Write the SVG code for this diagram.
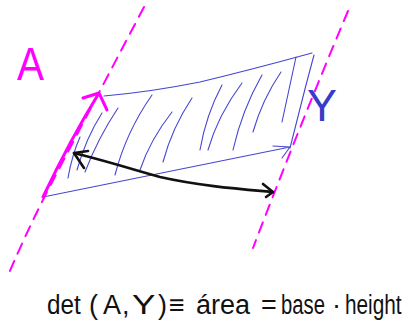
<svg xmlns="http://www.w3.org/2000/svg" width="409" height="329" viewBox="0 0 409 329">
<style>
.mag{stroke:#ff00ff;fill:none;stroke-linecap:round;stroke-linejoin:round}
.dash{stroke-width:2;stroke-dasharray:11 8}
.blue{stroke:#4646d0;fill:none;stroke-width:1.1;stroke-linecap:round;stroke-linejoin:round}
.blk{stroke:#111;fill:none;stroke-width:2.6;stroke-linecap:round;stroke-linejoin:round}
.hand{font-family:"Liberation Sans","DejaVu Sans",sans-serif}
.eq{font-family:"Liberation Sans","DejaVu Sans",sans-serif;font-size:27px;fill:#111}
</style>
<rect width="409" height="329" fill="#fff"/>
<g id="hatching">
<path class="blue" d="M80,137 Q72,155 68,178"/>
<path class="blue" d="M102,113 Q86,138 77,170"/>
<path class="blue" d="M118,108 Q98,138 85,172"/>
<path class="blue" d="M152,95 Q126,132 115,175"/>
<path class="blue" d="M172,112 Q150,140 140,170"/>
<path class="blue" d="M192,98 Q172,128 163,162"/>
<path class="blue" d="M222,85 Q206,115 200,150"/>
<path class="blue" d="M242,83 Q218,115 208,150"/>
<path class="blue" d="M262,75 Q242,110 233,150"/>
<path class="blue" d="M281,72 Q262,100 253,132"/>
<path class="blue" d="M296,57 Q289,90 282,122"/>
</g>
<g id="parallelogram">
<path class="blue" d="M104,96 Q150,92 200,82 Q250,70 312,53"/>
<path class="blue" d="M314,55 L306,85 L290,148"/>
<path class="blue" d="M43,197 L290,147 M273,146 L290,147 L282,158"/>
</g>
<g id="line-left">
<path class="mag dash" d="M144,7 Q95,100 48,190 Q25,235 7,278"/>
</g>
<g id="line-right">
<path class="mag dash" d="M348,11 Q300,125 253,248"/>
</g>
<g id="vector-A">
<path class="mag" stroke-width="3" d="M43,197 Q70,140 99,93 M83,98 L99,93 L107,110"/>
</g>
<g id="connectors">
<path class="blk" d="M74,153 C110,162 135,170 160,177 C200,186 240,189 273,192"/>
<path class="blk" d="M88,151 L74,153 L84,168"/>
<path class="blk" d="M263,184 L273,192 L266,197"/>
</g>
<g id="labels">
<text class="hand" x="17" y="80" font-size="46" fill="#ff00ff" textLength="27" lengthAdjust="spacingAndGlyphs">A</text>
<text class="hand" x="307" y="121" font-size="44" fill="#3a3ac8" textLength="30" lengthAdjust="spacingAndGlyphs">Y</text>
</g>
<g id="equation">
<text class="eq" transform="translate(47,314) scale(0.9,1)">det</text>
<text class="eq" x="89" y="314">(</text>
<text class="eq" x="103" y="314">A</text>
<text class="eq" x="122" y="314">,</text>
<text class="eq" transform="translate(132,314) scale(1.3,1)">Y</text>
<text class="eq" x="158" y="314">)</text>
<text class="eq" x="169" y="314">≡</text>
<text class="eq" x="196" y="314">área</text>
<text class="eq" x="261" y="314">=</text>
<text class="eq" transform="translate(281,314) scale(0.75,1)">base</text>
<text class="eq" x="332" y="314">·</text>
<text class="eq" transform="translate(345,314) scale(0.77,1)">height</text>
</g>
</svg>
